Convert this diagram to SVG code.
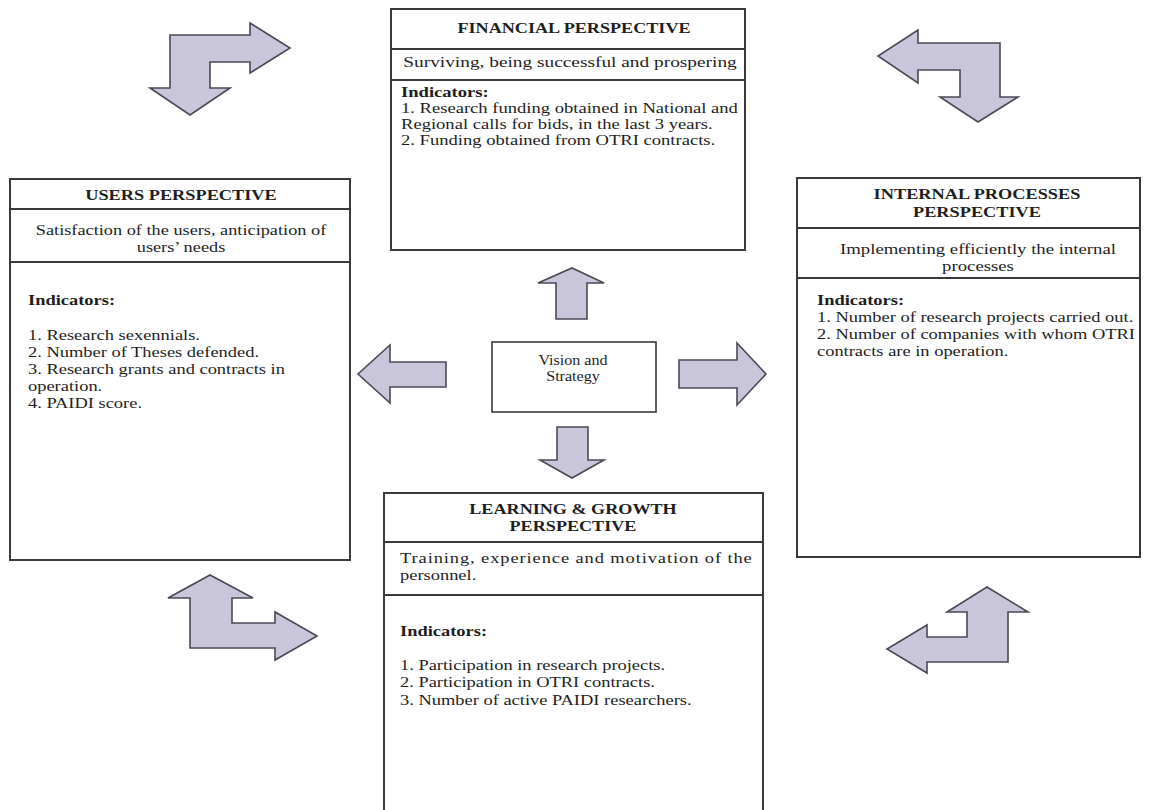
<svg xmlns="http://www.w3.org/2000/svg" width="1150" height="810" viewBox="0 0 1150 810">
<style>
.box{fill:#fff;stroke:#3a3a3a;stroke-width:2}
.sep{stroke:#3a3a3a;stroke-width:2}
.arr{fill:#c9c5da;stroke:#4a4a55;stroke-width:1.6;stroke-linejoin:miter}
text{font-family:"Liberation Serif","Times New Roman",serif;fill:#1e1e1e;font-size:15px}
.h{font-weight:bold;font-size:15px}
.c{text-anchor:middle}
.b{font-weight:bold}
</style>
<rect width="1150" height="810" fill="#fff"/>
<g id="connectors">
<polygon class="arr" points="170,35 250,35 250,23 290,48 250,73 250,62 210,62 210,88 230,88 190,115 150,88 170,88"/>
<polygon class="arr" points="918,43 1000,43 1000,97 1018,97 978,122 940,97 960,97 960,70 918,70 918,83 878,56 918,30"/>
<polygon class="arr" points="190,598 168,598 210,575 253,598 232,598 232,623 275,623 275,612 317,636 275,660 275,648 190,648"/>
<polygon class="arr" points="967,612 947,612 987,587 1028,612 1008,612 1008,662 927,662 927,673 887,649 927,625 927,637 967,637"/>
<polygon class="arr" points="556,319 556,283 538,283 572,268 604,283 587,283 587,319"/>
<polygon class="arr" points="557,427 588,427 588,460 604,460 572,478 540,460 557,460"/>
<polygon class="arr" points="679,360 737,360 737,343 766,374 737,405 737,388 679,388"/>
<polygon class="arr" points="446,362 390,362 390,345 358,374 390,403 390,387 446,387"/>
</g>
<g id="financial">
<rect class="box" x="391" y="9" width="354" height="241"/>
<line class="sep" x1="391" y1="49" x2="745" y2="49"/>
<line class="sep" x1="391" y1="80" x2="745" y2="80"/>
<g transform="translate(574,0) scale(1.21,1)">
<text class="h c" x="0" y="33">FINANCIAL PERSPECTIVE</text>
</g>
<g transform="translate(570,0) scale(1.29,1)">
<text class="c" x="0" y="67">Surviving, being successful and prospering</text>
</g>
<g transform="translate(401,0) scale(1.24,1)">
<text class="b" x="0" y="97">Indicators:</text>
<text x="0" y="113">1. Research funding obtained in National and</text>
<text x="0" y="129">Regional calls for bids, in the last 3 years.</text>
<text x="0" y="145">2. Funding obtained from OTRI contracts.</text>
</g>
</g>
<g id="users">
<rect class="box" x="10" y="179" width="340" height="381"/>
<line class="sep" x1="10" y1="209" x2="350" y2="209"/>
<line class="sep" x1="10" y1="262" x2="350" y2="262"/>
<g transform="translate(181,0) scale(1.22,1)">
<text class="h c" x="0" y="200">USERS PERSPECTIVE</text>
<text class="c" x="0" y="235">Satisfaction of the users, anticipation of</text>
<text class="c" x="0" y="252">users’ needs</text>
</g>
<g transform="translate(28,0) scale(1.23,1)">
<text class="b" x="0" y="305">Indicators:</text>
<text x="0" y="340">1. Research sexennials.</text>
<text x="0" y="357">2. Number of Theses defended.</text>
<text x="0" y="374">3. Research grants and contracts in</text>
<text x="0" y="391">operation.</text>
<text x="0" y="408">4. PAIDI score.</text>
</g>
</g>
<g id="internal">
<rect class="box" x="797" y="178" width="343" height="379"/>
<line class="sep" x1="797" y1="228" x2="1140" y2="228"/>
<line class="sep" x1="797" y1="278" x2="1140" y2="278"/>
<g transform="translate(977,0) scale(1.22,1)">
<text class="h c" x="0" y="199">INTERNAL PROCESSES</text>
<text class="h c" x="0" y="217">PERSPECTIVE</text>
</g>
<g transform="translate(978,0) scale(1.25,1)">
<text class="c" x="0" y="254">Implementing efficiently the internal</text>
<text class="c" x="0" y="271">processes</text>
</g>
<g transform="translate(817,0) scale(1.23,1)">
<text class="b" x="0" y="305">Indicators:</text>
<text x="0" y="322">1. Number of research projects carried out.</text>
<text x="0" y="339">2. Number of companies with whom OTRI</text>
<text x="0" y="356">contracts are in operation.</text>
</g>
</g>
<g id="learning">
<rect class="box" x="384" y="493" width="379" height="330"/>
<line class="sep" x1="384" y1="542" x2="763" y2="542"/>
<line class="sep" x1="384" y1="595" x2="763" y2="595"/>
<g transform="translate(573,0) scale(1.21,1)">
<text class="h c" x="0" y="514">LEARNING &amp; GROWTH</text>
<text class="h c" x="0" y="531">PERSPECTIVE</text>
</g>
<g transform="translate(400,0) scale(1.23,1)">
<text x="0" y="563" textLength="286" lengthAdjust="spacing">Training, experience and motivation of the</text>
<text x="0" y="580">personnel.</text>
<text class="b" x="0" y="636">Indicators:</text>
<text x="0" y="670">1. Participation in research projects.</text>
<text x="0" y="687">2. Participation in OTRI contracts.</text>
<text x="0" y="705">3. Number of active PAIDI researchers.</text>
</g>
</g>
<g id="vision">
<rect class="box" x="492" y="342" width="164" height="70" style="stroke-width:1.6"/>
<g transform="translate(573,0) scale(1.15,1)">
<text class="c" x="0" y="365" style="font-size:14px">Vision and</text>
<text class="c" x="0" y="381" style="font-size:14px">Strategy</text>
</g>
</g>
</svg>
